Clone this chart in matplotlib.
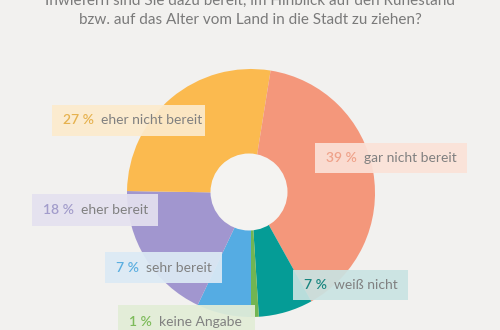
import matplotlib.pyplot as plt
from matplotlib.patches import Rectangle, Circle

# Data (clockwise from the bottom)
categories = ['sehr bereit', 'eher bereit', 'eher nicht bereit', 'gar nicht bereit', 'weiß nicht', 'keine Angabe']
values = [7, 18, 27, 39, 7, 1]
colors = ['#55ACE3', '#A196CF', '#FBBA4F', '#F4977B', '#059C96', '#72B552']
pct_colors = ['#5AAEE0', '#A29CCB', '#E6B24F', '#EFA28A', '#17857F', '#7DBB5A']
box_colors = ['#DCEAF5', '#E4E1EF', '#FCEBCD', '#FBE2D8', '#C9E3E2', '#E2EDD7']

title_lines = ['Inwiefern sind Sie dazu bereit, im Hinblick auf den Ruhestand',
               'bzw. auf das Alter vom Land in die Stadt zu ziehen?']

bg = '#F2F1EF'
W, H = 500, 330

fig = plt.figure(figsize=(5, 3.3), dpi=100, facecolor=bg)
ax = fig.add_axes([0, 0, 1, 1])
ax.set_facecolor(bg)

cx, cy = 251, H - 193
ax.pie(values, colors=colors, startangle=270, counterclock=False,
       center=(cx, cy), radius=124, frame=True,
       wedgeprops={'linewidth': 0})
# donut hole
ax.add_patch(Circle((cx - 2, cy + 1), 38.5, facecolor='#F4F3F1', edgecolor='none', zorder=3))
ax.set_xlim(0, W)
ax.set_ylim(0, H)
ax.set_aspect('equal')
ax.axis('off')

# title, first line is cut by the top edge like in the original
ax.text(250, H - 1, title_lines[0], ha='center', va='center', fontsize=11,
        family='Lato', color='#7A7A7A')
ax.text(250, H - 20, title_lines[1], ha='center', va='center', fontsize=11,
        family='Lato', color='#7A7A7A')

# label boxes (pixel coords: left, top, right, bottom)
boxes = [(105, 252, 222, 283), (32, 194, 158, 226), (52, 105, 205, 136),
         (315, 143, 467, 173), (293, 270, 408, 300), (118, 305, 255, 338)]

for i in range(len(values)):
    x0, y0, x1, y1 = boxes[i]
    ax.add_patch(Rectangle((x0, H - y1), x1 - x0, y1 - y0, facecolor=box_colors[i],
                           edgecolor='none', alpha=0.92, zorder=4))
    ym = H - (y0 + y1) / 2
    t = ax.text(x0 + 11, ym, f'{values[i]} %', ha='left', va='center', fontsize=10,
                family='Lato', fontweight='semibold', color=pct_colors[i], zorder=5)
    ax.annotate(categories[i], xy=(1, 0.5), xycoords=t, xytext=(7, 0),
                textcoords='offset pixels', ha='left', va='center', fontsize=10,
                family='Lato', color='#808080', zorder=5)

fig.savefig('out.png', dpi=100, facecolor=bg)
